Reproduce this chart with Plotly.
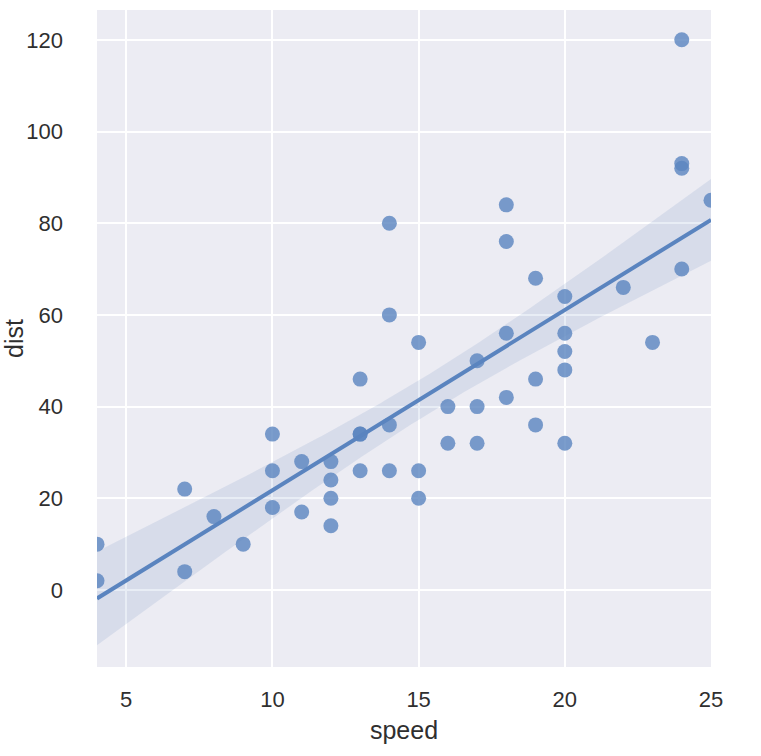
import numpy as np
import plotly.graph_objects as go

speed = [4, 4, 7, 7, 8, 9, 10, 10, 10, 11, 11, 12, 12, 12, 12, 13, 13, 13, 13,
         14, 14, 14, 14, 15, 15, 15, 16, 16, 17, 17, 17, 18, 18, 18, 18, 19, 19,
         19, 20, 20, 20, 20, 20, 22, 23, 24, 24, 24, 24, 25]
dist = [2, 10, 4, 22, 16, 10, 18, 26, 34, 17, 28, 14, 20, 24, 28, 26, 34, 34, 46,
        26, 36, 60, 80, 20, 26, 54, 32, 40, 32, 40, 50, 42, 56, 76, 84, 36, 46,
        68, 32, 48, 52, 56, 64, 66, 54, 70, 92, 93, 120, 85]
x_ticks = [5, 10, 15, 20, 25]
y_ticks = [0, 20, 40, 60, 80, 100, 120]

x = np.array(speed, float)
y = np.array(dist, float)
n = len(x)
b, a = np.polyfit(x, y, 1)
xs = np.linspace(x.min(), x.max(), 200)
ys = a + b * xs
resid = y - (a + b * x)
s = np.sqrt((resid ** 2).sum() / (n - 2))
sxx = ((x - x.mean()) ** 2).sum()
se = s * np.sqrt(1 / n + (xs - x.mean()) ** 2 / sxx)
t = 1.96
lo, hi = ys - t * se, ys + t * se

blue = "#5A84BF"
fig = go.Figure()
fig.add_trace(go.Scatter(x=np.concatenate([xs, xs[::-1]]), y=np.concatenate([hi, lo[::-1]]),
                         fill="toself", fillcolor="rgba(76,114,176,0.13)", line=dict(width=0),
                         mode="lines", hoverinfo="skip", showlegend=False))
fig.add_trace(go.Scatter(x=speed, y=dist, mode="markers",
                         marker=dict(color=blue, opacity=0.8, size=15, line=dict(width=0)),
                         showlegend=False, cliponaxis=True))
fig.add_trace(go.Scatter(x=xs, y=ys, mode="lines", line=dict(color=blue, width=4),
                         showlegend=False))

font = dict(family="Liberation Sans, Arial, sans-serif", size=22, color="#2f2f2f")
tfont = dict(family="Liberation Sans, Arial, sans-serif", size=25, color="#2f2f2f")
fig.update_layout(
    width=761, height=756,
    margin=dict(l=97, r=50, t=10, b=89),
    paper_bgcolor="white", plot_bgcolor="#ECECF3",
    font=font,
    xaxis=dict(range=[4, 25], tickvals=x_ticks, showgrid=True, gridcolor="white", gridwidth=2,
               zeroline=False, showline=False, ticks="", ticklabelstandoff=17, automargin=False,
               title=dict(text="speed", font=tfont, standoff=10)),
    yaxis=dict(range=[-16.8, 126.5], tickvals=y_ticks, showgrid=True, gridcolor="white", gridwidth=2,
               zeroline=False, showline=False, ticks="", ticklabelstandoff=33, automargin=False,
               title=dict(text="dist", font=tfont, standoff=0)),
)
fig.write_html("out.html")
